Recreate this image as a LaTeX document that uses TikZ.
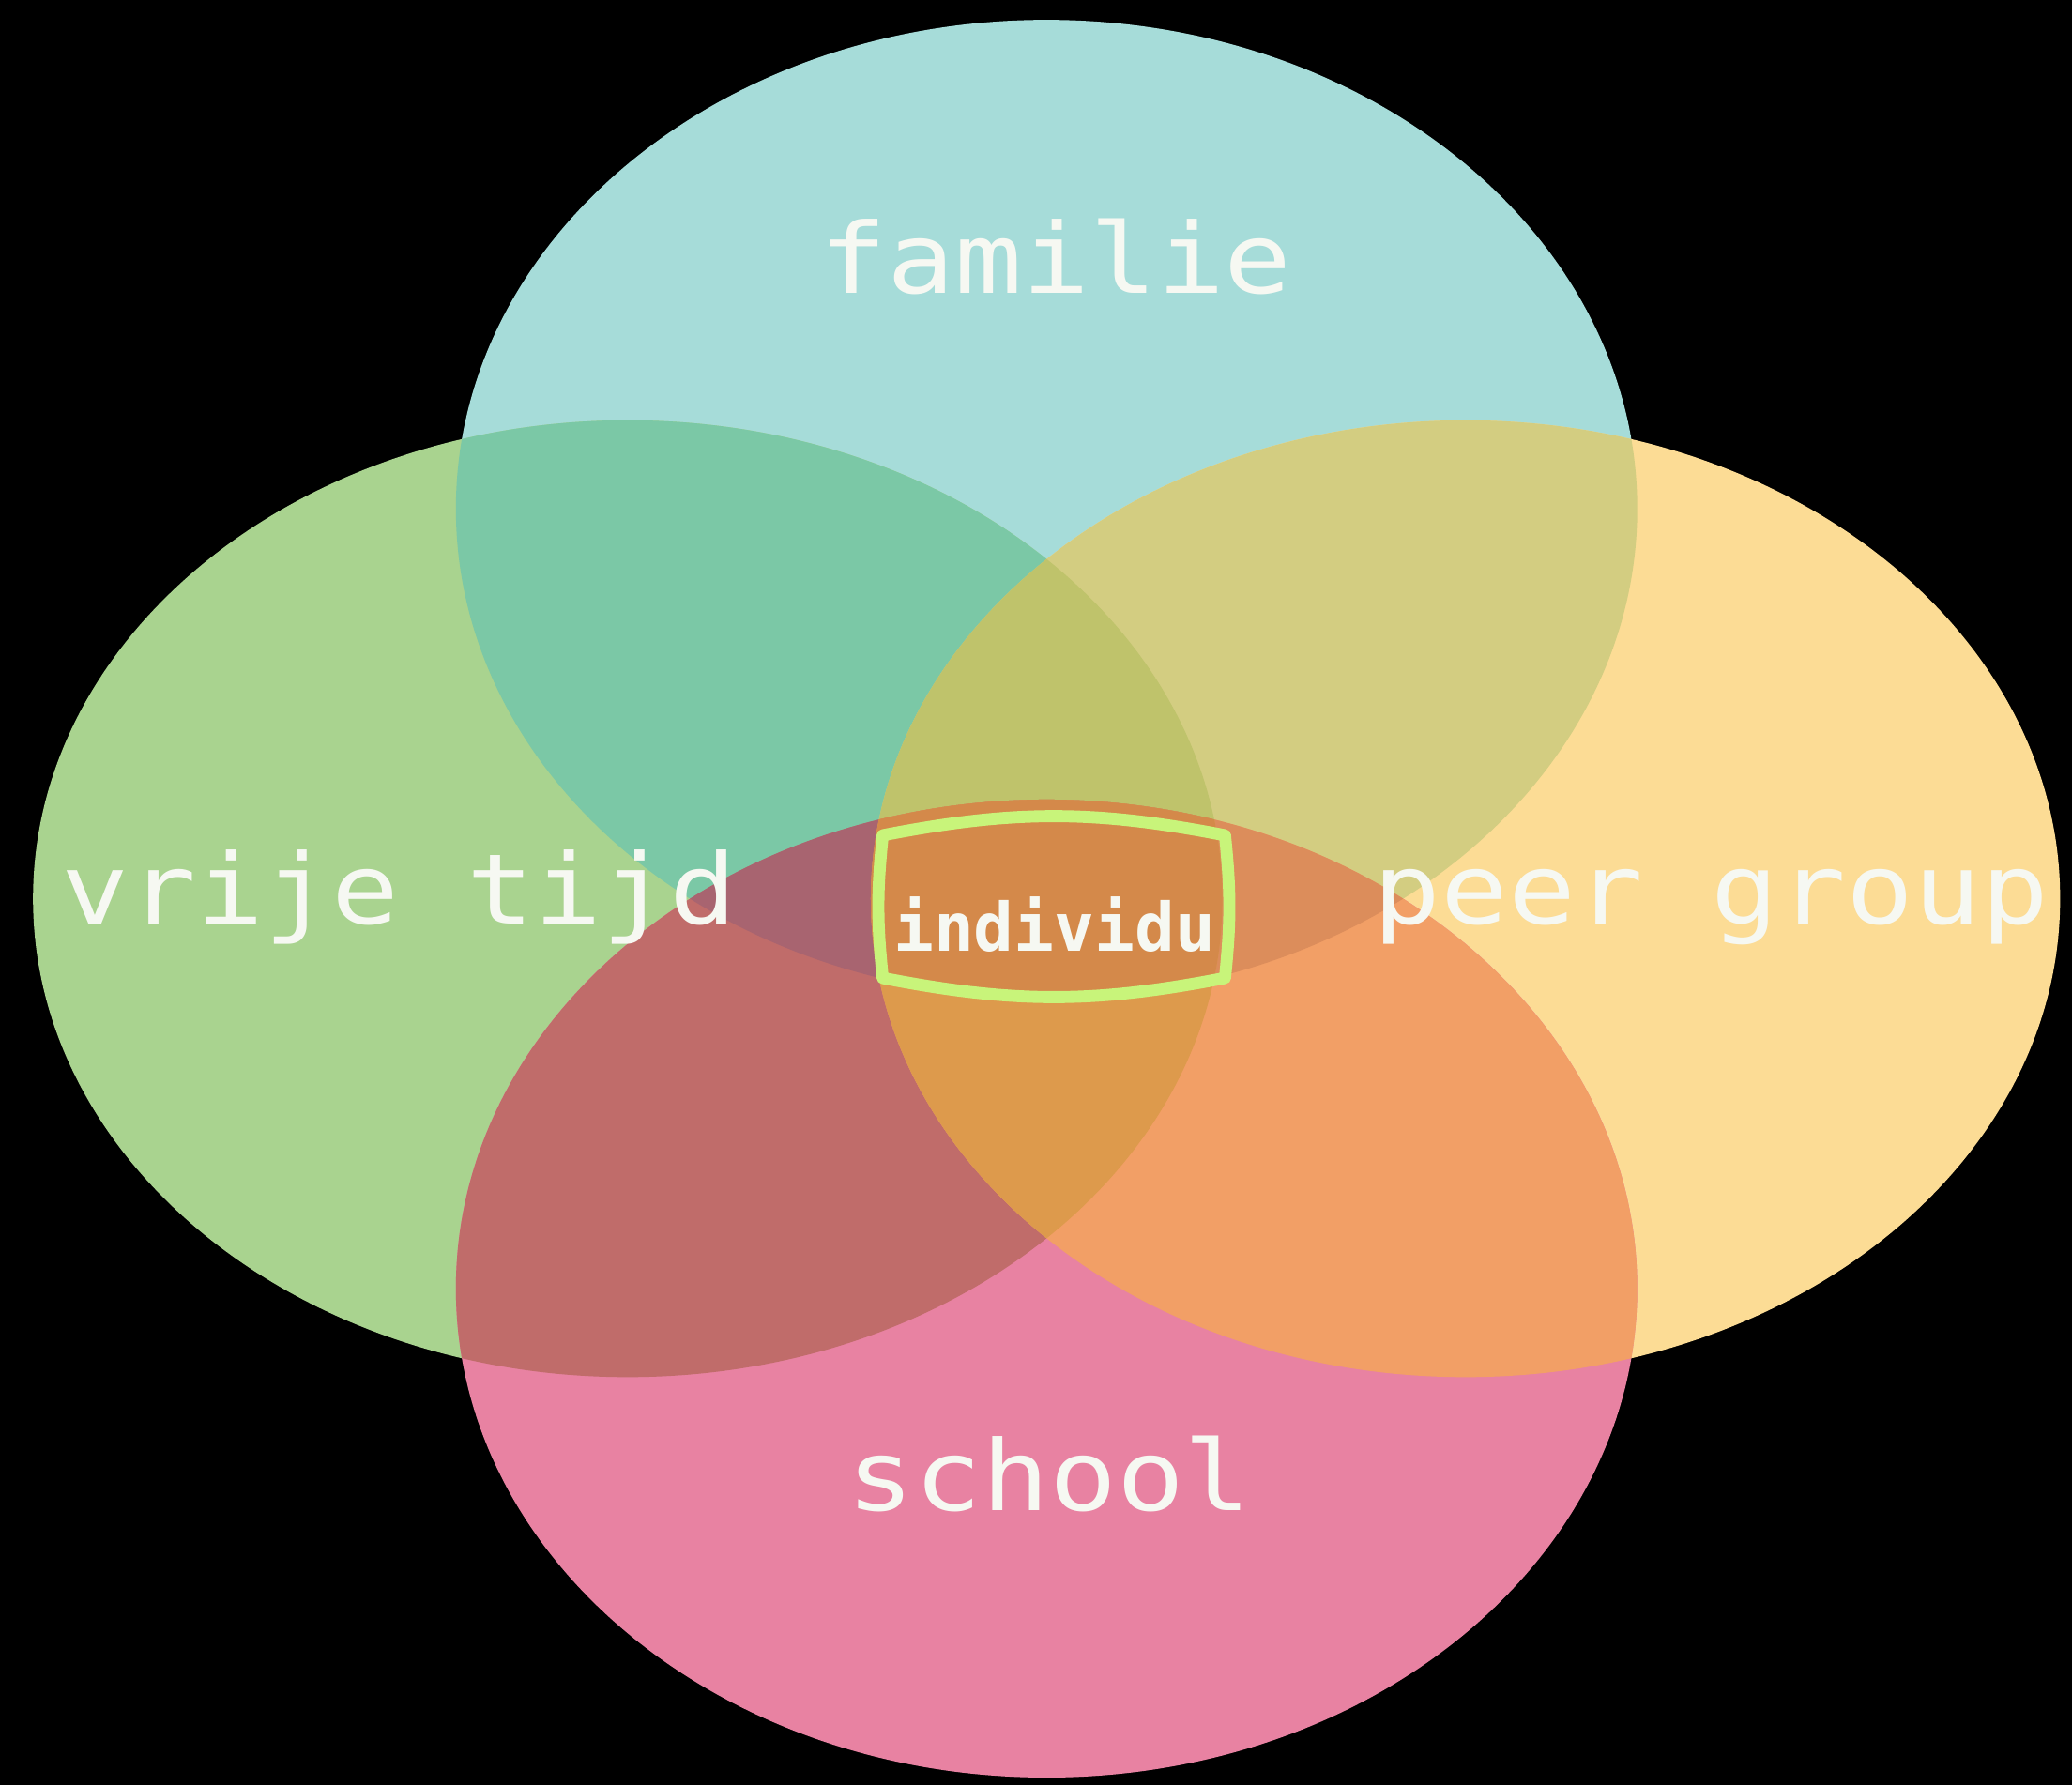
\documentclass[tikz,border=0pt]{standalone}
\usepackage{fontspec}
\usepackage{tikz}
\usetikzlibrary{positioning}

\newfontfamily\labelfont[FakeStretch=1.15]{DejaVu Sans Mono}
\newfontfamily\boxfont{DejaVu Sans Mono}

\definecolor{famcol}{HTML}{A6DCD9}
\definecolor{vrijcol}{HTML}{A9D38F}
\definecolor{peercol}{HTML}{FCDC95}
\definecolor{schoolcol}{HTML}{E882A2}
\definecolor{fvcol}{HTML}{7BC8A6}
\definecolor{fpcol}{HTML}{D3CD81}
\definecolor{vscol}{HTML}{C06C6A}
\definecolor{pscol}{HTML}{F29F66}
\definecolor{fvpcol}{HTML}{BFC36B}
\definecolor{fvscol}{HTML}{A86470}
\definecolor{fpscol}{HTML}{DC8D5B}
\definecolor{vpscol}{HTML}{DD9A4C}
\definecolor{allcol}{HTML}{D4894A}
\definecolor{textcol}{HTML}{F6F8F2}
\definecolor{boxcol}{HTML}{C8F47A}

\def\famellipse{(7.92,-3.85) ellipse [x radius=4.47, y radius=3.70]}
\def\vrijellipse{(4.75,-6.80) ellipse [x radius=4.50, y radius=3.62]}
\def\peerellipse{(11.09,-6.80) ellipse [x radius=4.50, y radius=3.62]}
\def\schoolellipse{(7.92,-9.75) ellipse [x radius=4.47, y radius=3.70]}

\begin{document}
\begin{tikzpicture}[
	setname/.style={text=textcol, font=\labelfont\fontsize{21}{21}\selectfont, anchor=base, inner sep=0pt},
	boxline/.style={draw=boxcol, line width=2.6pt, line join=round}
	]
	% background
	\fill[black] (0,0) rectangle (15.68,-13.51);
	\useasboundingbox (0,0) rectangle (15.68,-13.51);
	
	% the four sets
	\fill[famcol] \famellipse;
	\fill[vrijcol] \vrijellipse;
	\fill[peercol] \peerellipse;
	\fill[schoolcol] \schoolellipse;
	
	% two at once
	\begin{scope}
		\clip \famellipse;
		\fill[fvcol] \vrijellipse;
		\fill[fpcol] \peerellipse;
	\end{scope}
	\begin{scope}
		\clip \schoolellipse;
		\fill[vscol] \vrijellipse;
		\fill[pscol] \peerellipse;
	\end{scope}
	
	% three at once
	\begin{scope}
		\clip \famellipse;
		\clip \vrijellipse;
		\fill[fvpcol] \peerellipse;
		\fill[fvscol] \schoolellipse;
	\end{scope}
	\begin{scope}
		\clip \famellipse;
		\clip \peerellipse;
		\fill[fpscol] \schoolellipse;
	\end{scope}
	\begin{scope}
		\clip \vrijellipse;
		\clip \peerellipse;
		\fill[vpscol] \schoolellipse;
	\end{scope}
	
	% all four
	\begin{scope}
		\clip \famellipse;
		\clip \vrijellipse;
		\clip \peerellipse;
		\fill[allcol] \schoolellipse;
	\end{scope}
	
	% labels
	\node[setname] (familie) at (7.99,-2.22) {familie};
	\node[setname] (vrije) at (3.02,-6.99) {vrije tijd};
	\node[setname] (peer) at (12.95,-6.99) {peer group};
	\node[setname] (school) at (7.94,-11.43) {school};
	\node[text=textcol, font=\boxfont\bfseries\fontsize{14.4}{14.4}\selectfont, anchor=base, inner sep=0pt] (individu) at (7.98,-7.20) {individu};
	
	% box round the individu
	\coordinate (tl) at (6.68,-6.32);
	\coordinate (tr) at (9.27,-6.32);
	\coordinate (br) at (9.27,-7.40);
	\coordinate (bl) at (6.68,-7.40);
	\draw[boxline] (tl) to[bend left=11] (tr) to[bend left=6] (br) to[bend left=11] (bl) to[bend left=6] cycle;
\end{tikzpicture}
\end{document}
